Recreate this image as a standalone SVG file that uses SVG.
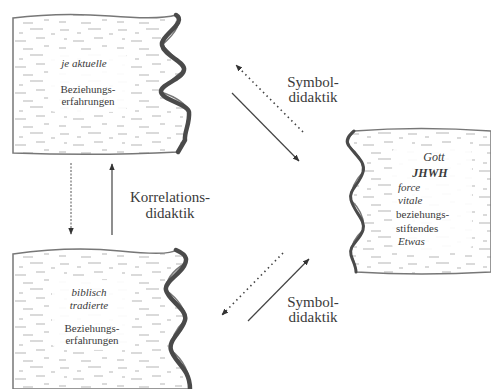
<svg xmlns="http://www.w3.org/2000/svg" width="491" height="389" viewBox="0 0 491 389">
<style>
.t{font-family:"Liberation Serif","Times New Roman","DejaVu Serif",serif;fill:#3a3a3a;}
.lbl{font-size:15px;}
.bx{font-size:11px;}
.it{font-style:italic;}
.edge{fill:none;stroke:#4a4a4a;stroke-width:4.5;stroke-linejoin:round;stroke-linecap:round;}
.out{fill:url(#stone);stroke:#777;stroke-width:1.5;}
.clear{fill:#fff;opacity:0.92;}
.sol{stroke:#444;stroke-width:1.2;fill:none;}
.dot{stroke:#444;stroke-width:1.6;fill:none;stroke-dasharray:1.5 3.5;}
.dash{stroke:#555;stroke-width:1;fill:none;stroke-dasharray:2 1.5;}
</style>
<defs>
<pattern id="stone" width="58" height="26" patternUnits="userSpaceOnUse">
<rect width="58" height="26" fill="#fff"/>
<path d="M2 4h9M19 7h4M30 3h13M6 13h3M15 15h11M36 12h9M1 22h7M23 23h10M44 20h5M51 8h4" stroke="#b5b5b5" stroke-width="1.2"/>
</pattern>
<marker id="ah" viewBox="0 0 10 10" refX="9" refY="5" markerWidth="7" markerHeight="8" orient="auto" markerUnits="userSpaceOnUse">
<path d="M0 1L10 5L0 9Z" fill="#333"/>
</marker>
</defs>
<g id="node-aktuell">
<path class="out" d="M13 18 Q60 12 110 16 T176 15 Q185 25 162 45 Q178 60 184 70 Q170 80 161 92 Q185 100 189 112 Q186 128 185 140 L178 152 Q100 156 13 153 Z"/>
<rect class="clear" x="48" y="52" width="80" height="60" rx="8"/>
<path class="edge" d="M176 15 C188 22 160 36 162 45 C164 56 186 62 184 70 C182 80 160 84 161 92 C162 100 188 104 189 112 C190 124 184 132 185 140 L178 152"/>
<text class="t bx it" x="84" y="67" text-anchor="middle">je aktuelle</text>
<text class="t bx" x="88" y="93" text-anchor="middle">Beziehungs-</text>
<text class="t bx" x="88" y="105" text-anchor="middle">erfahrungen</text>
</g>
<g id="node-biblisch">
<path class="out" d="M13 254 Q70 246 120 251 T176 250 Q190 258 184 264 Q166 275 166 290 Q186 305 185 320 Q170 335 171 350 Q190 365 190 389 L13 389 Z"/>
<rect class="clear" x="52" y="280" width="80" height="70" rx="8"/>
<path class="edge" d="M176 250 C190 256 186 262 184 266 C178 276 164 282 166 290 C168 300 188 310 185 320 C182 332 168 340 171 350 C174 362 190 368 190 389"/>
<text class="t bx it" x="89" y="296" text-anchor="middle">biblisch</text>
<text class="t bx it" x="89" y="309" text-anchor="middle">tradierte</text>
<text class="t bx" x="92" y="332" text-anchor="middle">Beziehungs-</text>
<text class="t bx" x="92" y="344" text-anchor="middle">erfahrungen</text>
</g>
<g id="node-gott">
<path class="out" d="M354 131 Q420 126 491 131 L491 272 Q420 276 356 272 Q356 265 351 255 Q350 242 363 230 Q366 215 351 200 Q350 186 363 172 Q364 158 349 146 Q346 140 354 131 Z"/>
<rect class="clear" x="392" y="146" width="80" height="106" rx="8"/>
<path class="edge" style="stroke-width:3" d="M354 131 C346 138 346 142 349 146 C356 156 366 162 363 172 C360 184 348 190 351 200 C354 212 366 220 363 230 C360 240 348 246 351 255 C353 262 356 266 356 272"/>
<text class="t bx it" x="434" y="161" text-anchor="middle" style="font-size:12px">Gott</text>
<text class="t bx it" x="430" y="177" text-anchor="middle" style="font-size:12px;font-weight:bold">JHWH</text>
<text class="t bx it" x="398" y="191">force</text>
<text class="t bx it" x="398" y="204">vitale</text>
<text class="t bx" x="396" y="218">beziehungs-</text>
<text class="t bx" x="396" y="232">stiftendes</text>
<text class="t bx it" x="398" y="245">Etwas</text>
</g>
<g id="connectors">
<path class="dot" d="M303 132 L236 65" marker-end="url(#ah)"/>
<path class="sol" d="M232 93 L299 161" marker-end="url(#ah)"/>
<path class="dot" d="M283 253 L222 315" marker-end="url(#ah)"/>
<path class="sol" d="M248 321 L309 259" marker-end="url(#ah)"/>
<path class="dash" d="M71 163 L71 234" marker-end="url(#ah)"/>
<path class="sol" d="M112 235 L112 164" marker-end="url(#ah)"/>
</g>
<text class="t lbl" x="313" y="87" text-anchor="middle">Symbol-</text>
<text class="t lbl" x="313" y="102" text-anchor="middle">didaktik</text>
<text class="t lbl" x="313" y="307" text-anchor="middle">Symbol-</text>
<text class="t lbl" x="313" y="322" text-anchor="middle">didaktik</text>
<text class="t lbl" x="170" y="202" text-anchor="middle">Korrelations-</text>
<text class="t lbl" x="170" y="218" text-anchor="middle">didaktik</text>
</svg>
